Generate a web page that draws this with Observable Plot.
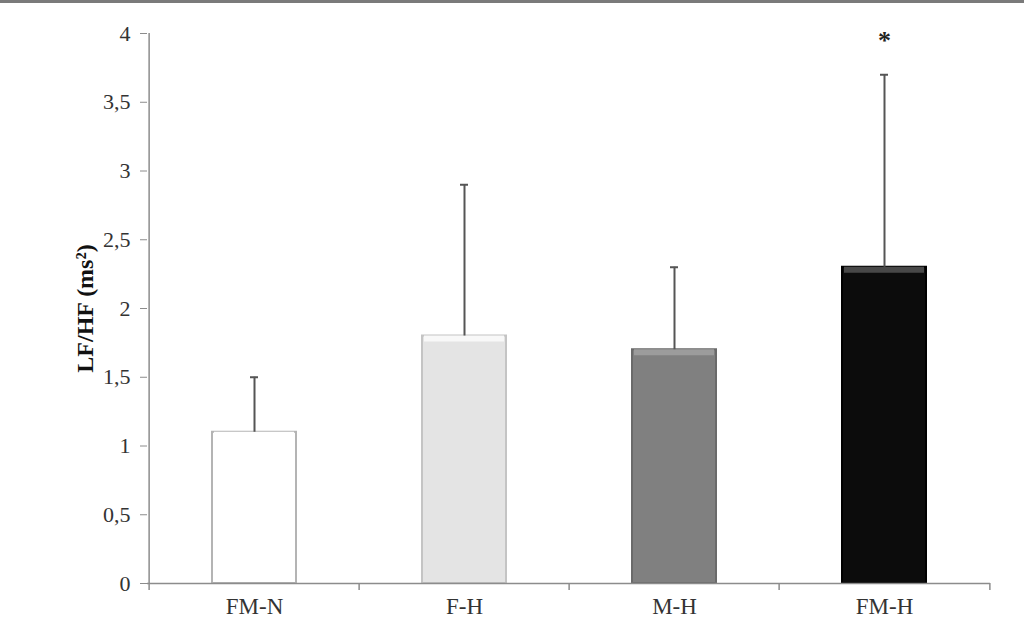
<!DOCTYPE html>
<html>
<head>
<meta charset="utf-8">
<script src="https://cdn.jsdelivr.net/npm/d3@7"></script>
<script src="https://cdn.jsdelivr.net/npm/@observablehq/plot@0.6"></script>
<style>
  html, body { margin: 0; padding: 0; background: #fff; }
  #wrap { width: 1024px; height: 627px; border-top: 3px solid #7a7a7a; }
</style>
</head>
<body>
<div id="wrap"></div>
<script>
const groups = ["FM-N", "F-H", "M-H", "FM-H"];
const means = [1.1, 1.8, 1.7, 2.3];
const errors = [0.4, 1.1, 0.6, 1.4];
const marks = ["", "", "", "*"];
const yTicks = [0, 0.5, 1, 1.5, 2, 2.5, 3, 3.5, 4];
const fills = ["#ffffff", "#e4e4e4", "#808080", "#0c0c0c"];
const sides = ["#b4b4b4", "#c4c4c4", "#6a6a6a", "#000000"];
const tops = ["#ffffff", "#f8f8f8", "#9c9c9c", "#484848"];

const data = groups.map((g, i) => ({
  group: g, mean: means[i], err: errors[i], top: means[i] + errors[i],
  mark: marks[i], fill: fills[i], side: sides[i], topc: tops[i]
}));

const W = 1024, H = 627;
const mL = 147, mR = 34, mT = 30, mB = 47;
const step = (W - mL - mR) / groups.length;

const chart = Plot.plot({
  width: W,
  height: H,
  marginLeft: mL,
  marginRight: mR,
  marginTop: mT,
  marginBottom: mB,
  style: { fontFamily: "Liberation Serif, serif", fontSize: "22px", background: "#fff" },
  x: { domain: groups, paddingInner: 0.6, paddingOuter: 0.3, axis: null },
  y: { domain: [0, 4], axis: null },
  marks: [
    // bars
    Plot.barY(data, { x: "group", y: "mean", fill: "fill", stroke: "side", strokeWidth: 2 }),
    // top bevel highlight
    Plot.barY(data, { x: "group", y1: "mean", y2: "mean", insetBottom: -6, insetLeft: 2, insetRight: 2, fill: "topc" }),
    // error bars
    Plot.ruleX(data, { x: "group", y1: "mean", y2: "top", stroke: "#555", strokeWidth: 2 }),
    Plot.tickY(data, { x: "group", y: "top", stroke: "#555", strokeWidth: 2, insetLeft: 38, insetRight: 38 }),
    // significance mark
    Plot.text(data, { x: "group", y: "top", text: "mark", dy: -34, fontSize: 26, fontWeight: "bold", fill: "#222" }),
    // y axis line
    Plot.ruleX([groups[0]], { x: d => d, dx: -step / 2, y1: 0, y2: 4, stroke: "#8c8c8c", strokeWidth: 1.5 }),
    // x axis line
    Plot.ruleY([0], { stroke: "#8c8c8c", strokeWidth: 1.5 }),
    // category boundary ticks
    Plot.ruleX(data, { x: "group", dx: -step / 2, y1: 0, y2: 0, insetTop: 7, stroke: "#8c8c8c", strokeWidth: 1.5 }),
    Plot.ruleX([groups[groups.length - 1]], { x: d => d, dx: step / 2, y1: 0, y2: 0, insetTop: 7, stroke: "#8c8c8c", strokeWidth: 1.5 }),
    // axes
    Plot.axisY(yTicks, {
      tickSize: 7, tickPadding: 10, stroke: "#8c8c8c",
      tickFormat: d => String(d).replace(".", ","),
      fontSize: 22, fill: "#333", label: null
    }),
    Plot.axisX({ tickSize: 0, tickPadding: 14, fontSize: 23, fill: "#333", label: null }),
    // y label
    Plot.text(["LF/HF (ms²)"], { frameAnchor: "left", dx: -62, rotate: -90, textAnchor: "middle", fontSize: 24, fontWeight: "bold", fill: "#111" })
  ]
});
document.getElementById("wrap").appendChild(chart);
</script>
</body>
</html>
